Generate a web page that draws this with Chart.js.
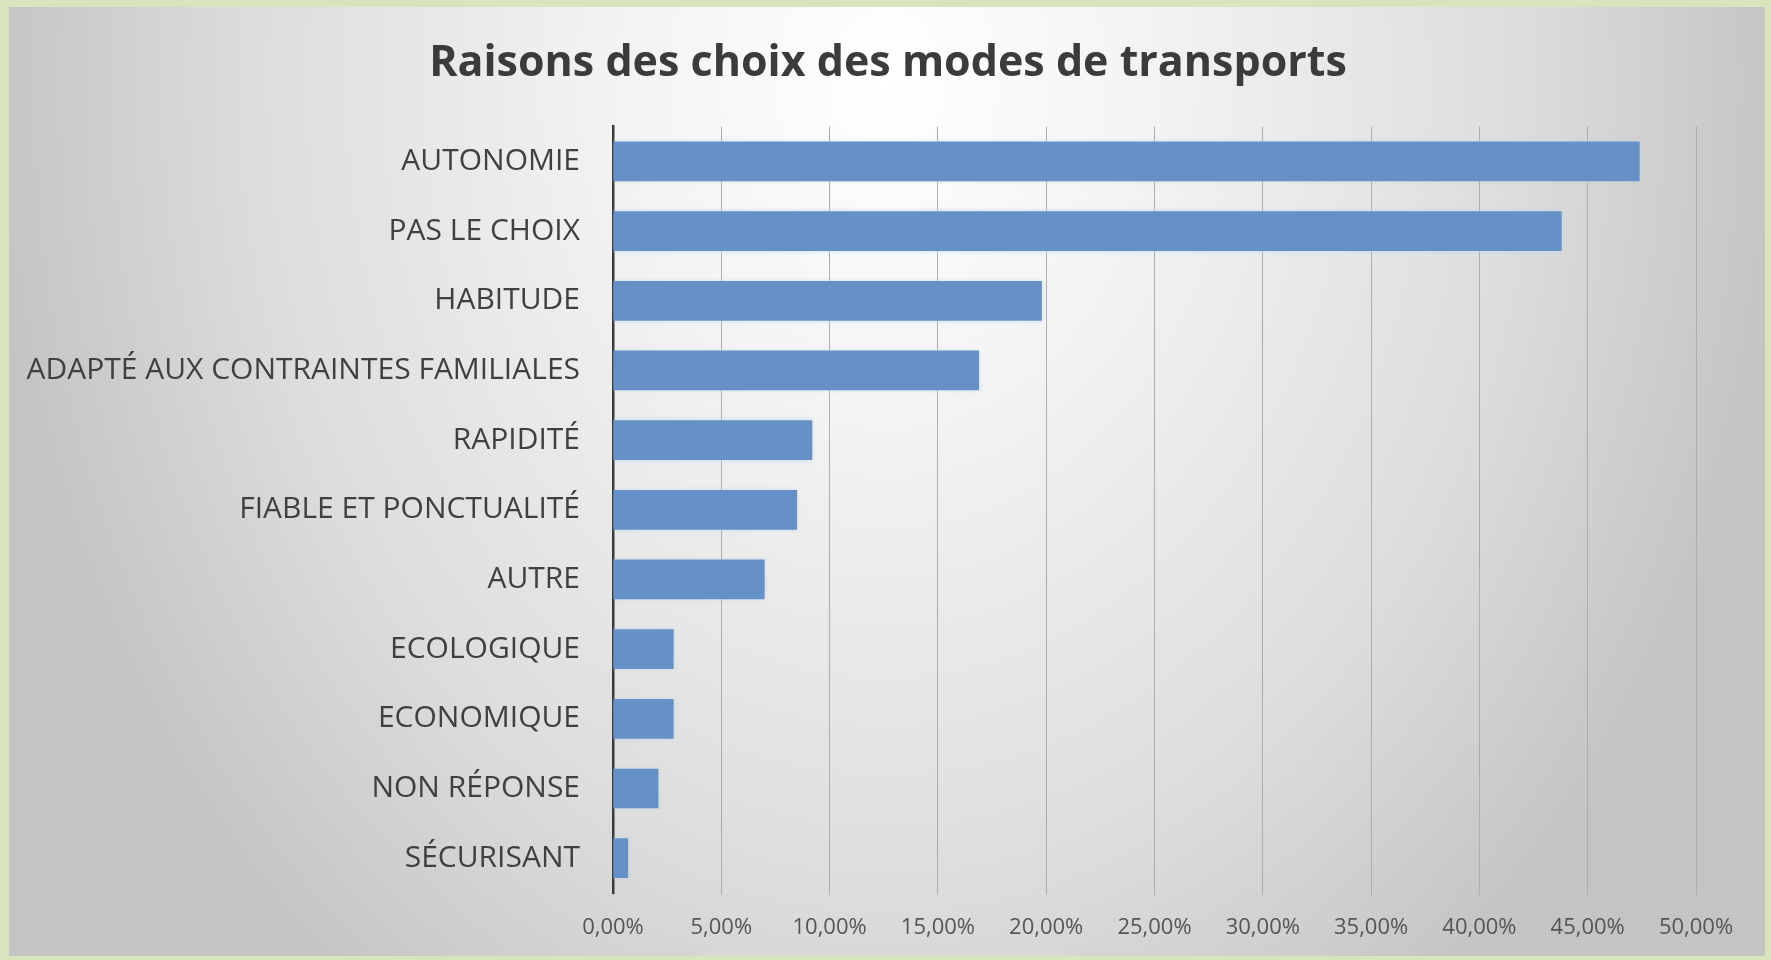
<!DOCTYPE html>
<html lang="fr">
<head>
<meta charset="utf-8">
<title>Raisons des choix des modes de transports</title>
<script src="https://cdn.jsdelivr.net/npm/chart.js@4.4.1/dist/chart.umd.min.js"></script>
<style>
  html, body { margin: 0; padding: 0; }
  body { width: 1771px; height: 960px; background: #d8e4bc; position: relative; overflow: hidden; }
  #panel {
    position: absolute; left: 9px; top: 7px; width: 1756px; height: 949px;
    background: radial-gradient(ellipse 900px 1150px at 50% 8%, #ffffff 0%, #f3f3f3 30%, #dddddd 70%, #c4c4c4 100%);
  }
  #chart { position: absolute; left: 0; top: 0; }
</style>
</head>
<body>
<div id="panel"></div>
<canvas id="chart" width="1771" height="960"></canvas>
<script>
'use strict';

// ── data ──
var categories = [
  'AUTONOMIE',
  'PAS LE CHOIX',
  'HABITUDE',
  'ADAPTÉ AUX CONTRAINTES FAMILIALES',
  'RAPIDITÉ',
  'FIABLE ET PONCTUALITÉ',
  'AUTRE',
  'ECOLOGIQUE',
  'ECONOMIQUE',
  'NON RÉPONSE',
  'SÉCURISANT'
];
var shares = [47.4, 43.8, 19.8, 16.9, 9.2, 8.5, 7.0, 2.8, 2.8, 2.1, 0.7];
var axisMax = 50;
var axisStep = 5;

var FONT = "'Open Sans', 'Noto Sans', sans-serif";

// soft light-blue halo round the bars, like the Excel export
var barGlow = {
  id: 'barGlow',
  beforeDatasetDraw: function(chart){
    var ctx = chart.ctx;
    ctx.save();
    ctx.shadowColor = 'rgba(190,214,245,0.9)';
    ctx.shadowBlur = 5;
  },
  afterDatasetDraw: function(chart){ chart.ctx.restore(); }
};

new Chart(document.getElementById('chart'), {
  type: 'bar',
  data: {
    labels: categories,
    datasets: [{
      data: shares,
      backgroundColor: '#6691c6',
      borderWidth: 0,
      categoryPercentage: 1,
      barPercentage: 0.57
    }]
  },
  options: {
    indexAxis: 'y',
    responsive: false,
    animation: false,
    devicePixelRatio: 1,
    layout: { padding: { left: 5, right: 0, top: 38, bottom: 0 } },
    plugins: {
      legend: { display: false },
      tooltip: { enabled: false },
      title: {
        display: true,
        text: 'Raisons des choix des modes de transports',
        color: '#3b3b3b',
        font: { family: FONT, size: 43, weight: 'bold' },
        padding: { top: 0, bottom: 37 }
      }
    },
    scales: {
      x: {
        min: 0, max: axisMax,
        grid: { color: '#adadad', lineWidth: 1, drawTicks: true, tickLength: 2, tickColor: '#adadad' },
        border: { display: false },
        ticks: {
          stepSize: axisStep,
          color: '#555555',
          padding: 20,
          font: { family: FONT, size: 22 },
          callback: function(v){ return v.toFixed(2).replace('.', ',') + '%'; }
        },
        afterFit: function(scale){ scale.height = 960 - 893; }
      },
      y: {
        grid: { display: false, drawTicks: false },
        border: { display: true, color: '#3a3a3a', width: 2.5 },
        ticks: {
          color: '#404040',
          padding: 33,
          font: { family: FONT, size: 30 }
        },
        afterFit: function(scale){ scale.width = 613 - 5; }
      },
      // empty spacer on the right so the plot stops at 50 % where the reference does
      yRight: {
        type: 'category',
        position: 'right',
        grid: { display: false, drawTicks: false },
        border: { display: false },
        ticks: { display: false },
        afterFit: function(scale){ scale.width = 1771 - 1696; }
      }
    }
  },
  plugins: [barGlow]
});
</script>
</body>
</html>
